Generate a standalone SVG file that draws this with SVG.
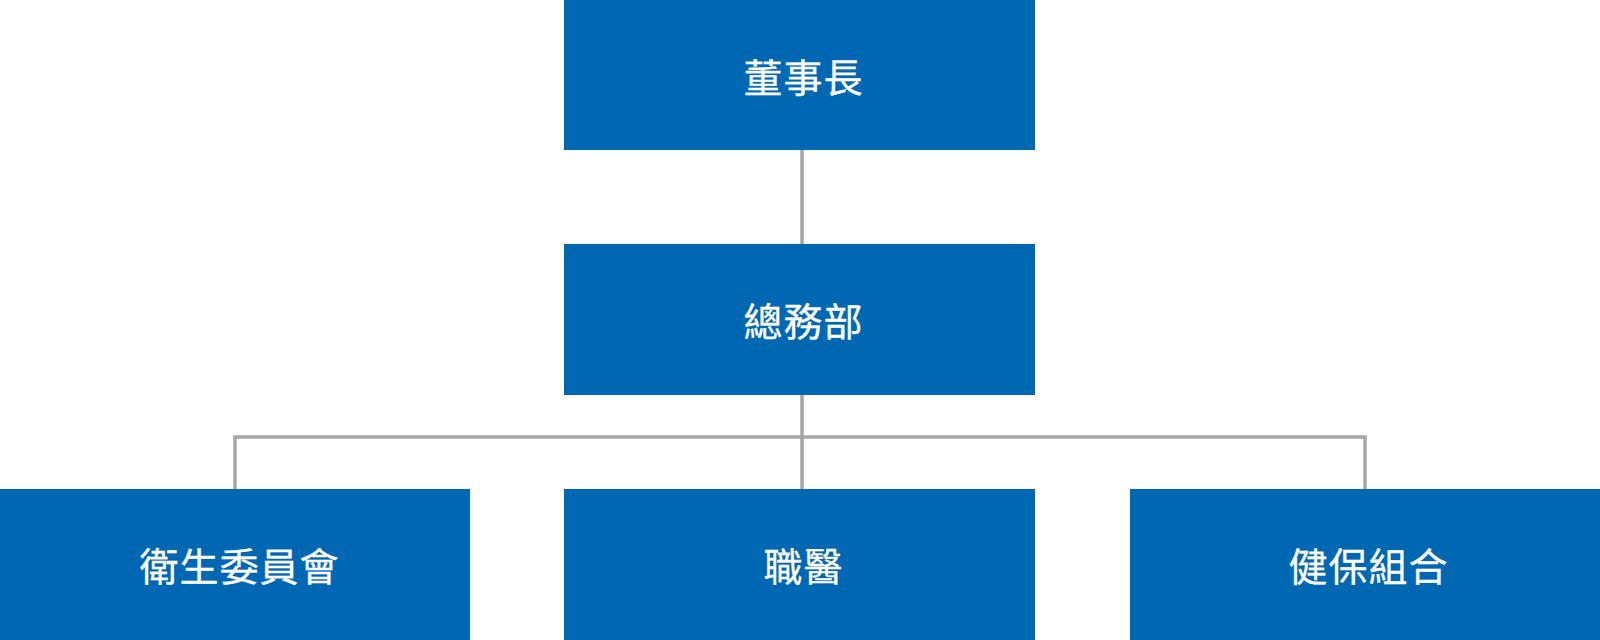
<svg xmlns="http://www.w3.org/2000/svg" width="1600" height="640" viewBox="0 0 1600 640">
<style>
.box{fill:#0068B2}
.lbl{fill:#FFFFFF;stroke:#FFFFFF;stroke-width:0.3px;font-family:"Noto Sans CJK TC","Noto Sans CJK JP",sans-serif;font-size:39px;font-weight:400;letter-spacing:1px;text-anchor:middle}
.conn{fill:none;stroke:#A6A6A6;stroke-width:3.5}
</style>
<rect width="1600" height="640" fill="#FFFFFF"/>
<g id="connectors">
<line class="conn" x1="802" y1="150" x2="802" y2="244"/>
<line class="conn" x1="802" y1="395" x2="802" y2="489"/>
<polyline class="conn" points="235,489 235,437 1365,437 1365,489"/>
</g>
<g id="chairman">
<rect class="box" x="564" y="0" width="471" height="150"/>
<text class="lbl" x="803.5" y="91.5">董事長</text>
</g>
<g id="general-affairs">
<rect class="box" x="564" y="244" width="471" height="151"/>
<text class="lbl" x="803.5" y="335.5">總務部</text>
</g>
<g id="health-committee">
<rect class="box" x="0" y="489" width="470" height="151"/>
<text class="lbl" x="239.5" y="580.5">衛生委員會</text>
</g>
<g id="occupational-physician">
<rect class="box" x="564" y="489" width="471" height="151"/>
<text class="lbl" x="803.5" y="580.5">職醫</text>
</g>
<g id="health-insurance">
<rect class="box" x="1130" y="489" width="470" height="151"/>
<text class="lbl" x="1368.5" y="580.5">健保組合</text>
</g>
</svg>
